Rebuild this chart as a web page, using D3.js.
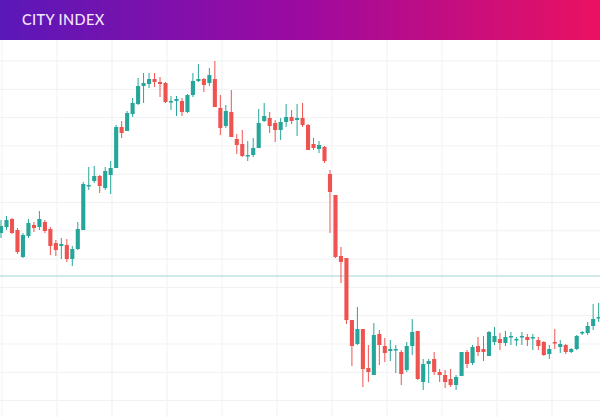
<!DOCTYPE html>
<html><head><meta charset="utf-8">
<script src="https://cdn.jsdelivr.net/npm/d3@7"></script>
<style>body{margin:0;background:#fff;overflow:hidden}</style>
</head><body>
<svg id="c" width="600" height="417"></svg>
<script>
const open=[187,193,201,190,163,184,195,193,198,191,177,174,175,161,171,190,234,239,244,232,245,252,293,289,306,316,334,336,341,338,337,318,319,319,308,325,339,341,337,341,312,294,308,281,276,264,265,272,299,302,297,290,298,303,300,302,295,276,271,273,246,225,164,162,100,76,91,52,45,86,74,69,70,68,50,74,89,38,56,61,48,45,41,35,44,68,57,74,71,64,78,81,77,83,80,83,83,82,80,78,66,78,73,75,68,71,87,87,94,102];
const high=[200,204,202,192,187,201,198,209,200,193,180,182,181,174,198,238,253,254,245,253,259,295,299,309,322,342,347,347,347,343,338,324,324,322,326,347,356,342,352,359,325,315,330,286,290,279,282,311,317,308,300,302,316,310,316,317,296,282,279,274,250,225,173,162,100,113,91,75,97,90,82,80,75,70,78,101,89,61,61,68,51,50,51,45,68,70,75,83,84,89,93,87,89,88,83,88,86,86,83,79,75,91,80,76,72,85,89,98,116,117];
const low=[182,190,186,166,162,182,188,190,187,165,164,161,158,154,170,190,230,237,227,230,226,252,282,289,303,315,317,332,333,323,317,310,304,304,307,323,338,328,334,313,285,292,283,266,263,259,263,272,298,287,278,280,293,296,284,293,270,270,267,257,187,162,137,96,54,75,33,38,45,55,58,59,47,35,48,65,40,30,37,45,38,32,33,30,44,52,55,64,59,64,75,70,74,75,74,75,74,70,70,64,61,71,67,66,67,70,85,85,90,98];
const close=[194,200,187,168,185,197,192,201,189,174,170,176,161,171,191,236,235,244,234,249,252,293,287,307,317,334,337,341,338,336,318,319,321,308,325,339,341,335,345,313,292,309,283,275,264,265,272,297,304,294,290,298,303,299,302,295,270,272,275,259,228,163,158,100,74,91,51,48,85,75,67,71,71,46,74,88,41,56,59,48,45,38,35,43,68,56,73,68,68,88,84,77,83,84,81,84,80,83,74,65,71,77,76,68,71,84,88,94,101,103];
const refLevel=[144];

const svg=d3.select("#c");
const W=600,H=417;
const x=d3.scaleBand().domain(d3.range(open.length)).range([-1.03,600.7]).paddingInner(0.25);
const y=d3.scaleLinear().domain([0,420]).range([420,0]);

const g=svg.append("g");
for(let gx=2;gx<W;gx+=55) g.append("line").attr("x1",gx).attr("x2",gx).attr("y1",40).attr("y2",H).attr("stroke","#f1f1f4");
for(let gy=61;gy<H;gy+=28.3) g.append("line").attr("x1",0).attr("x2",W).attr("y1",gy).attr("y2",gy).attr("stroke","#f1f1f4");

svg.append("line").attr("x1",0).attr("x2",W).attr("y1",y(refLevel[0])).attr("y2",y(refLevel[0])).attr("stroke","#9fd4d4").attr("stroke-width",1.2);

const data=open.map((o,i)=>({i,o,h:high[i],l:low[i],c:close[i]}));
const col=d=>d.c>=d.o?"#26a69a":"#ef5350";
const cg=svg.append("g");
cg.selectAll("line.w").data(data).join("line")
 .attr("x1",d=>x(d.i)+x.bandwidth()/2).attr("x2",d=>x(d.i)+x.bandwidth()/2)
 .attr("y1",d=>y(d.h)).attr("y2",d=>y(d.l)).attr("stroke",col).attr("stroke-width",1);
cg.selectAll("rect").data(data).join("rect")
 .attr("x",d=>x(d.i)).attr("width",x.bandwidth())
 .attr("y",d=>y(Math.max(d.o,d.c))).attr("height",d=>Math.max(1.5,Math.abs(y(d.o)-y(d.c))))
 .attr("fill",col);

const defs=svg.append("defs");
const lg=defs.append("linearGradient").attr("id","hg");
lg.append("stop").attr("offset","0%").attr("stop-color","#5a18b8");
lg.append("stop").attr("offset","50%").attr("stop-color","#9c0aa0");
lg.append("stop").attr("offset","100%").attr("stop-color","#eb1161");
svg.append("rect").attr("x",0).attr("y",0).attr("width",W).attr("height",40).attr("fill","url(#hg)");
svg.append("text").attr("x",22).attr("y",24.5).attr("fill","#f3e6ff").attr("font-family","Lato, sans-serif").attr("font-size",14.5).attr("font-weight",500).attr("letter-spacing",0.4).text("CITY INDEX");
</script>
</body></html>
